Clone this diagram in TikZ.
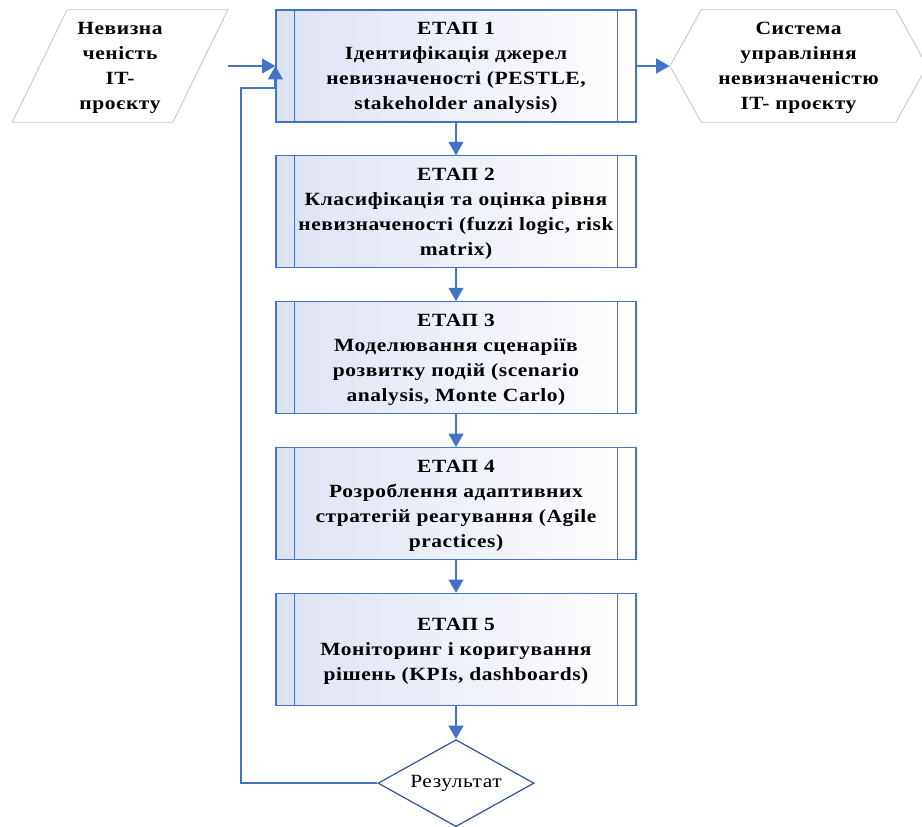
\documentclass[tikz,border=0pt]{standalone}
\usepackage{fontspec}
\setmainfont[FakeStretch=1.15,LetterSpace=3]{Liberation Serif}
\usetikzlibrary{arrows.meta,shapes.geometric,shapes.symbols,positioning,calc}
\definecolor{stageblue}{RGB}{68,114,196}
\definecolor{stagefill}{RGB}{221,226,243}
\definecolor{termgray}{RGB}{195,195,195}
\definecolor{resblue}{RGB}{47,85,151}

\begin{document}
\begin{tikzpicture}[
    stage/.style={draw=stageblue,line width=0.9pt,left color=stagefill,
                  right color=white,minimum width=270pt,minimum height=84pt,
                  font=\bfseries\fontsize{14}{18.75}\selectfont,
                  align=center,inner sep=2pt,text depth=0pt},
    term/.style={draw=termgray,line width=0.6pt,fill=white,
                 font=\bfseries\fontsize{14}{18.75}\selectfont,
                 align=center,inner sep=1pt,text depth=0pt},
    arr/.style={-{Triangle[length=10pt,width=11pt]},line width=1.5pt,stageblue},
  ]
    \useasboundingbox (0,0) rectangle (691.5pt,-620.25pt);
    \node[stage](s1) at (342pt,-49.5pt){%
      ЕТАП 1\\Ідентифікація джерел\\невизначеності (PESTLE,\\stakeholder analysis)};
    \node[stage,below=24.5pt of s1](s2){%
      ЕТАП 2\\Класифікація та оцінка рівня\\невизначеності (fuzzi logic, risk\\matrix)};
    \node[stage,below=24.5pt of s2](s3){%
      ЕТАП 3\\Моделювання сценаріїв\\розвитку подій (scenario\\analysis, Monte Carlo)};
    \node[stage,below=24.5pt of s3](s4){%
      ЕТАП 4\\Розроблення адаптивних\\стратегій реагування (Agile\\practices)};
    \node[stage,below=24.5pt of s4](s5){%
      ЕТАП 5\\Моніторинг і коригування\\рішень (KPIs, dashboards)};
    \foreach \s in {s1,s2,s3,s4,s5}{
      \draw[stageblue,line width=0.9pt]
        ([xshift=14.25pt]\s.north west) -- ([xshift=14.25pt]\s.south west);
      \draw[stageblue,line width=0.9pt]
        ([xshift=-14.25pt]\s.north east) -- ([xshift=-14.25pt]\s.south east);
    }
    \node[term,trapezium,trapezium left angle=63,trapezium right angle=117,
      trapezium stretches,minimum width=162pt,minimum height=84.5pt]
      (inp) at (90pt,-49.5pt){Невизна\\ченість\\IT-\\проєкту};
    \node[term,signal,signal to=east and west,signal pointer angle=122,
      minimum width=192.75pt,minimum height=84.5pt]
      (outp) at (598.9pt,-49.5pt){Система\\управління\\невизначеністю\\IT- проєкту};
    \node[diamond,draw=resblue,line width=0.9pt,fill=white,aspect=1.8,
      minimum width=117pt,minimum height=65.25pt,inner sep=1pt,
      font=\fontsize{14}{18.75}\selectfont,below=24.75pt of s5](res){Результат};
    \foreach \a/\b in {s1/s2,s2/s3,s3/s4,s4/s5,s5/res}
      \draw[arr](\a)--(\b);
    \coordinate (inS) at (inp.top right corner |- s1.west);
    \draw[arr](inS)--(s1.west);
    \draw[arr](s1.east)--(outp.west);
    \coordinate (fb) at ([xshift=-25.5pt,yshift=-16.5pt]s1.west);
    \draw[arr](res.west) -| (fb) -- (fb -| s1.west) -- (s1.west);
  \end{tikzpicture}
\end{document}
